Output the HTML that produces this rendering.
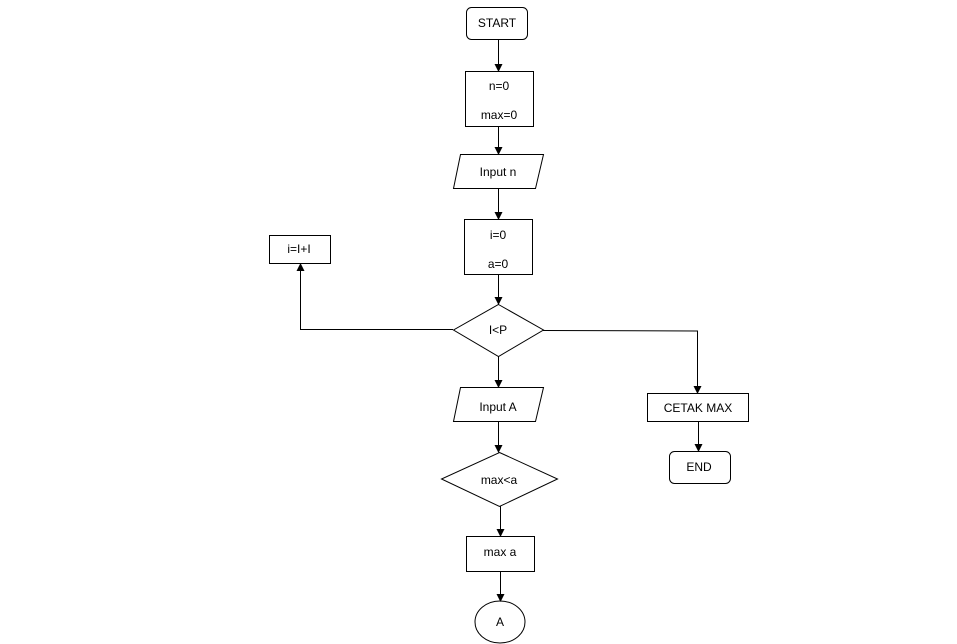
<!DOCTYPE html>
<html><head><style>body{margin:0;background:#fff}svg{display:block}text{font-family:"Liberation Sans",sans-serif;font-size:12px;fill:#000}</style></head><body>
<svg width="957" height="644" viewBox="0 0 957 644" xmlns="http://www.w3.org/2000/svg">
<defs><marker id="a" markerWidth="8" markerHeight="8" refX="7" refY="4" orient="auto" markerUnits="userSpaceOnUse"><path d="M0,0 L8,4 L0,8 z" fill="#000"/></marker></defs>
<g fill="none" stroke="#000" stroke-width="1">
<rect x="466.5" y="7.5" width="61" height="32" rx="5"/>
<rect x="465.5" y="71.5" width="68" height="55"/>
<polygon points="460.5,154.5 543.5,154.5 535.5,188.5 453.5,188.5"/>
<rect x="464.5" y="219.5" width="68" height="55"/>
<polygon points="498.5,304.5 543.5,330 498.5,356.5 453.5,330"/>
<rect x="269.5" y="235.5" width="61" height="28"/>
<polygon points="460.5,387.5 543.5,387.5 535.5,421.5 453.5,421.5"/>
<polygon points="499.5,452.5 557.5,479 499.5,506.5 441.5,479"/>
<rect x="466.5" y="536.5" width="68" height="35"/>
<ellipse cx="500" cy="622" rx="25" ry="21"/>
<rect x="647.5" y="393.5" width="101" height="28"/>
<rect x="669.5" y="451.5" width="61" height="32" rx="5"/>
<g marker-end="url(#a)">
<line x1="498.5" y1="39" x2="498.5" y2="71"/>
<line x1="498.5" y1="126" x2="498.5" y2="154"/>
<line x1="498.5" y1="188" x2="498.5" y2="219"/>
<line x1="498.5" y1="274" x2="498.5" y2="304"/>
<line x1="498.5" y1="356" x2="498.5" y2="387"/>
<line x1="498.5" y1="421" x2="498.5" y2="452"/>
<line x1="500.5" y1="506" x2="500.5" y2="536"/>
<line x1="500.5" y1="571" x2="500.5" y2="601"/>
<polyline points="453,329.5 300.5,329.5 300.5,264"/>
<polyline points="543,330.5 697.5,331 697.5,393"/>
<line x1="698.5" y1="421" x2="698.5" y2="451"/>
</g>
</g>
<g text-anchor="middle">
<text x="497" y="27">START</text>
<text x="499" y="90">n=0</text>
<text x="499" y="119">max=0</text>
<text x="498" y="176">Input n</text>
<text x="498" y="239">i=0</text>
<text x="498" y="268">a=0</text>
<text x="299" y="253">i=I+I</text>
<text x="498" y="334">I&lt;P</text>
<text x="498" y="411">Input A</text>
<text x="499" y="484">max&lt;a</text>
<text x="500" y="556">max a</text>
<text x="500" y="626">A</text>
<text x="698" y="412">CETAK MAX</text>
<text x="699" y="471">END</text>
</g>
</svg></body></html>
